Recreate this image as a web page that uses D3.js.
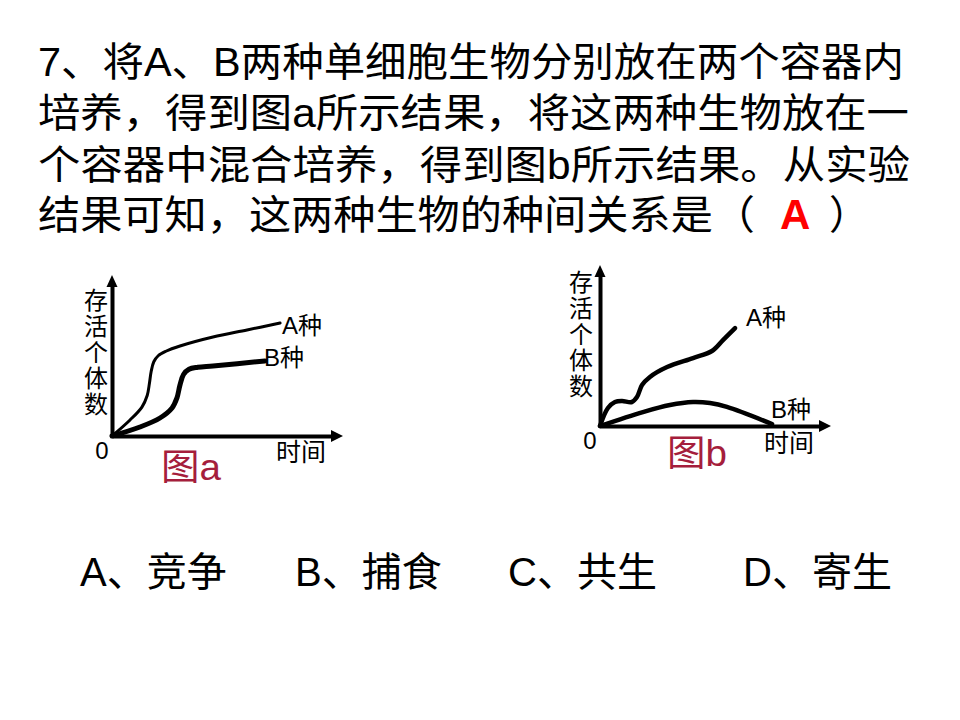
<!DOCTYPE html>
<html><head><meta charset="utf-8">
<script src="https://cdn.jsdelivr.net/npm/d3@7"></script>
<style>html,body{margin:0;padding:0;background:#fff;}svg{display:block;}</style>
</head><body>
<script>
// ---- text data ----
const questionLines = [
  "7、将A、B两种单细胞生物分别放在两个容器内",
  "培养，得到图a所示结果，将这两种生物放在一",
  "个容器中混合培养，得到图b所示结果。从实验",
  "结果可知，这两种生物的种间关系是（"
];
const answerText = "A";
const closeParen = "）";
const optionLabels = ["A、竞争", "B、捕食", "C、共生", "D、寄生"];
const yAxisLabel = ["存","活","个","体","数"];
const xAxisLabel = "时间";
const originLabel = "0";
const chartTitles = ["图a", "图b"];
const seriesNames = ["A种", "B种"];

// ---- series data (time, survivors), arbitrary units 0..10 ----
const aSpeciesA = [[0,0],[0.82,1.07],[1.36,1.93],[1.6,2.7],[1.7,3.5],[1.78,4.3],[1.9,4.95],[2.1,5.35],[2.45,5.65],[3.09,6.0],[4.59,6.6],[6.14,7.07],[7.64,7.53]];
const aSpeciesB = [[0,0],[1.27,0.6],[2.18,1.2],[2.73,1.87],[2.95,2.53],[3.09,3.4],[3.25,4.1],[3.5,4.45],[3.9,4.58],[4.59,4.67],[6.95,5.0]];
const bSpeciesA = [[0,0],[0.36,1.2],[0.68,1.6],[1.0,1.67],[1.45,1.6],[1.68,1.93],[1.91,2.73],[2.27,3.27],[3.05,3.93],[4.23,4.53],[5.09,5.0],[5.59,5.73],[6.14,6.53]];
const bSpeciesB = [[0,0],[1.95,0.93],[3.18,1.4],[4.23,1.6],[5.0,1.53],[5.77,1.27],[7.82,0.13]];

const W = 960, H = 720;
const svg = d3.select("body").append("svg").attr("width", W).attr("height", H);
const FONT = "'Liberation Sans', Arial, 'Noto Sans CJK SC', sans-serif";

// ---- question text ----
const lineX = 38, lineBase = [76, 127, 179, 229], lineLen = [866, 871, 872, 717];
questionLines.forEach((t, i) => {
  svg.append("text").attr("x", lineX).attr("y", lineBase[i])
    .attr("textLength", lineLen[i]).attr("lengthAdjust", "spacingAndGlyphs")
    .style("font-family", FONT).style("font-size", "40px").attr("fill", "#000").text(t);
});
svg.append("text").attr("x", 780).attr("y", 229)
  .style("font-family", FONT).style("font-size", "42px").style("font-weight", "bold")
  .attr("fill", "#ff0000").text(answerText);
svg.append("text").attr("x", 829).attr("y", 229)
  .style("font-family", FONT).style("font-size", "40px").attr("fill", "#000").text(closeParen);

// ---- options ----
const optX = [80, 295, 508, 743];
optionLabels.forEach((t, i) => {
  svg.append("text").attr("x", optX[i]).attr("y", 586)
    .style("font-family", FONT).style("font-size", "40px").attr("fill", "#000").text(t);
});

// ---- charts ----
function drawChart(cfg) {
  const x = d3.scaleLinear().domain([0, 10]).range([cfg.ox, cfg.ox + 220]);
  const y = d3.scaleLinear().domain([0, 10]).range([cfg.oy, cfg.oy - 150]);
  const g = svg.append("g");

  // axes via d3 axis generators (no ticks)
  const xAxis = g.append("g").attr("transform", `translate(0,${cfg.oy})`)
    .call(d3.axisBottom(x).tickValues([]).tickSizeOuter(0));
  const yAxis = g.append("g").attr("transform", `translate(${cfg.ox},0)`)
    .call(d3.axisLeft(y).tickValues([]).tickSizeOuter(0));
  [xAxis, yAxis].forEach(a => a.select(".domain").attr("stroke", "#000").attr("stroke-width", 4));
  // arrow heads
  const xe = x(10), yt = y(10);
  g.append("path").attr("d", `M${xe-1},${cfg.oy-6}L${xe+11},${cfg.oy}L${xe-1},${cfg.oy+6}Z`).attr("fill", "#000");
  g.append("path").attr("d", `M${cfg.ox-5.5},${yt+1}L${cfg.ox},${yt-11}L${cfg.ox+5.5},${yt+1}Z`).attr("fill", "#000");

  const line = d3.line().x(d => x(d[0])).y(d => y(d[1])).curve(d3.curveCatmullRom.alpha(0.5));
  cfg.series.forEach(s => {
    g.append("path").datum(s.data).attr("d", line).attr("fill", "none")
      .attr("stroke", "#000").attr("stroke-width", s.w)
      .attr("stroke-linecap", "round").attr("stroke-linejoin", "round");
    g.append("text").attr("x", s.lx).attr("y", s.ly)
      .style("font-family", FONT).style("font-size", "24px").attr("fill", "#000").text(s.name);
  });

  // y label (vertical)
  yAxisLabel.forEach((c, i) => {
    g.append("text").attr("x", cfg.ylx).attr("y", cfg.yly + i * 26).attr("text-anchor", "middle")
      .style("font-family", FONT).style("font-size", "24px").attr("fill", "#000").text(c);
  });
  g.append("text").attr("x", cfg.zx).attr("y", cfg.zy).attr("text-anchor", "middle")
    .style("font-family", FONT).style("font-size", "24px").attr("fill", "#000").text(originLabel);
  g.append("text").attr("x", cfg.tx).attr("y", cfg.ty)
    .style("font-family", FONT).style("font-size", "25px").attr("fill", "#000").text(xAxisLabel);
  g.append("text").attr("x", cfg.cx).attr("y", cfg.cy)
    .attr("textLength", 60).attr("lengthAdjust", "spacingAndGlyphs")
    .style("font-family", FONT).style("font-size", "36px").attr("fill", "#a51e3c").text(cfg.title);
}

drawChart({
  ox: 112, oy: 436, title: chartTitles[0], cx: 161, cy: 480,
  ylx: 96, yly: 309, zx: 102, zy: 459, tx: 276, ty: 461,
  series: [
    {name: seriesNames[0], data: aSpeciesA, w: 3, lx: 282, ly: 334},
    {name: seriesNames[1], data: aSpeciesB, w: 5, lx: 264, ly: 366}
  ]
});
drawChart({
  ox: 600, oy: 426, title: chartTitles[1], cx: 667, cy: 466,
  ylx: 581, yly: 291, zx: 590, zy: 449, tx: 764, ty: 452,
  series: [
    {name: seriesNames[0], data: bSpeciesA, w: 4.5, lx: 746, ly: 326},
    {name: seriesNames[1], data: bSpeciesB, w: 4.5, lx: 771, ly: 418}
  ]
});
</script>
</body></html>
